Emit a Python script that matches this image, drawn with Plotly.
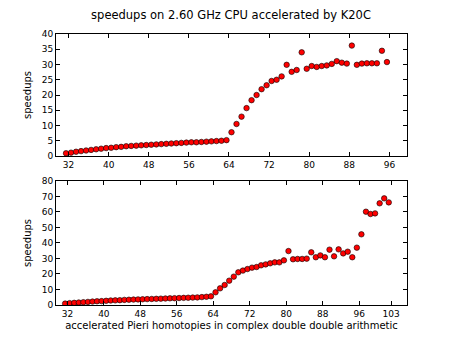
import plotly.graph_objects as go

# speedups, top: 2.60 GHz CPU vs K20C, x = 32 .. 96
top_x = list(range(32, 97))
top_speedup = [0.9, 1.1, 1.4, 1.6, 1.8, 2.0, 2.2, 2.4, 2.6, 2.7, 2.9, 3.0, 3.2,
               3.3, 3.4, 3.5, 3.6, 3.7, 3.8, 3.9, 4.0, 4.1, 4.2, 4.3, 4.4, 4.5,
               4.5, 4.6, 4.7, 4.8, 4.9, 5.0, 5.2,
               7.8, 10.5, 12.9, 15.7, 18.3, 20.0, 21.9, 23.2, 24.6, 25.0, 26.1,
               29.9, 27.6, 28.2, 34.0, 28.6, 29.5, 29.2, 29.5, 29.7, 30.2, 31.1,
               30.6, 30.3, 36.2, 29.9, 30.3, 30.4, 30.4, 30.4, 34.5, 30.8]

# speedups, bottom: complex double double arithmetic, x = 32 .. 103
bot_x = list(range(32, 104))
bot_speedup = [0.9, 1.2, 1.4, 1.6, 1.8, 2.0, 2.2, 2.4, 2.5, 2.7, 2.9, 3.0, 3.1,
               3.3, 3.4, 3.5, 3.6, 3.7, 3.8, 3.9, 4.0, 4.1, 4.2, 4.3, 4.4, 4.5,
               4.6, 4.7, 4.8, 4.9, 5.1, 5.3, 5.6,
               8.2, 10.75, 12.9, 15.7, 18.3, 21.1, 22.2, 23.2, 24.1, 24.5, 25.6,
               26.2, 26.9, 27.5, 27.5, 28.8, 34.8, 29.5, 29.7, 29.7, 29.9, 34.0,
               30.8, 32.0, 30.8, 35.7, 31.4, 35.9, 33.3, 34.4, 30.8, 37.0, 45.6,
               60.2, 58.7, 59.1, 65.6, 68.8, 66.2]

top_ticks = [32, 40, 48, 56, 64, 72, 80, 88, 96]
bot_ticks = [32, 40, 48, 56, 64, 72, 80, 88, 96, 103]

FONT = "DejaVu Sans"

marker = dict(color="#ff0000", size=5.5, line=dict(color="black", width=0.6))

fig = go.Figure()
fig.add_trace(go.Scatter(x=top_x, y=top_speedup, mode="markers", marker=marker,
                         xaxis="x", yaxis="y", showlegend=False))
fig.add_trace(go.Scatter(x=bot_x, y=bot_speedup, mode="markers", marker=marker,
                         xaxis="x2", yaxis="y2", showlegend=False))

axis_style = dict(showline=True, linecolor="black", linewidth=1, mirror="allticks",
                  ticks="inside", ticklen=4, tickcolor="black", showgrid=False,
                  zeroline=False, tickfont=dict(family=FONT, size=9, color="black"))

# page body has an 8px margin, so the figure is 436x323 and fills the 452x339 window
# ticks sit half a unit right of the points, as in the original
fig.update_layout(
    width=436, height=323,
    margin=dict(l=0, r=0, t=0, b=0, autoexpand=False),
    plot_bgcolor="white", paper_bgcolor="white",
    title=dict(text="speedups on 2.60 GHz CPU accelerated by K20C",
               x=0.5115, xanchor="center", y=0.979, yanchor="middle",
               font=dict(family=FONT, size=11.5, color="black")),
    xaxis=dict(domain=[0.1101, 0.9151], anchor="y", range=[30, 100],
               tickvals=[t + 0.5 for t in top_ticks], ticktext=[str(t) for t in top_ticks],
               **axis_style),
    yaxis=dict(domain=[0.5418, 0.9195], anchor="x", range=[0, 40],
               tickvals=list(range(0, 41, 5)),
               title=dict(text="speedups", standoff=8,
                          font=dict(family=FONT, size=10, color="black")),
               **axis_style),
    xaxis2=dict(domain=[0.1101, 0.9151], anchor="y2", range=[30, 107],
                tickvals=[t + 0.5 for t in bot_ticks], ticktext=[str(t) for t in bot_ticks],
                title=dict(text="accelerated Pieri homotopies in complex double double arithmetic",
                           standoff=9, font=dict(family=FONT, size=10, color="black")),
                **axis_style),
    yaxis2=dict(domain=[0.0805, 0.4644], anchor="x2", range=[0, 80],
                tickvals=list(range(0, 81, 10)),
                title=dict(text="speedups", standoff=8,
                           font=dict(family=FONT, size=10, color="black")),
                **axis_style),
)

fig.write_html("out.html")
